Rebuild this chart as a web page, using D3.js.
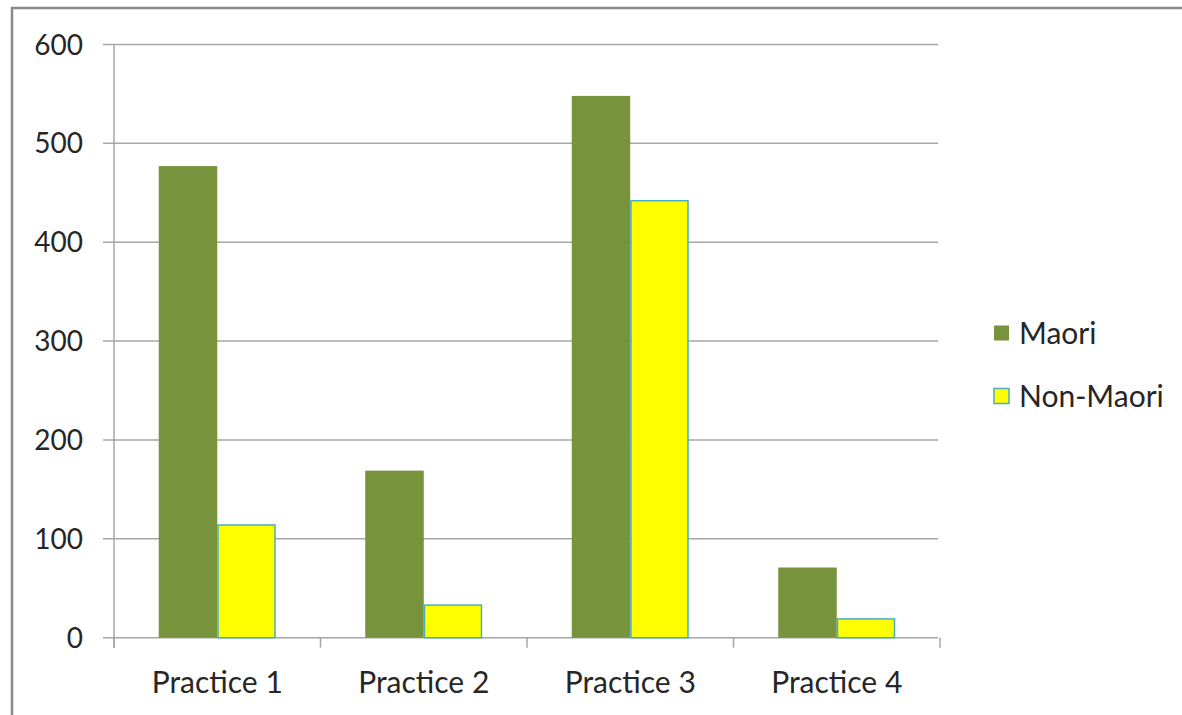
<!DOCTYPE html>
<html><head><meta charset="utf-8">
<script src="https://cdn.jsdelivr.net/npm/d3@7"></script>
<style>
html,body{margin:0;padding:0;background:#fff;}
svg{display:block;}
text{font-family:Lato,"Open Sans",sans-serif;fill:#262626;}
</style></head>
<body>
<script>
const categories = ["Practice 1", "Practice 2", "Practice 3", "Practice 4"];
const seriesNames = ["Maori", "Non-Maori"];
const maori = [477, 169, 548, 71];
const nonMaori = [114, 33, 442, 19];
const yTicks = [0, 100, 200, 300, 400, 500, 600];

(function () {
const W = 1182, H = 715;
const svg = d3.select("body").append("svg").attr("width", W).attr("height", H);

// outer frame
svg.append("line").attr("x1", 12).attr("x2", 12).attr("y1", 7).attr("y2", H).attr("stroke", "#8a8a8a").attr("stroke-width", 2.5);
svg.append("line").attr("x1", 11).attr("x2", W).attr("y1", 8).attr("y2", 8).attr("stroke", "#8a8a8a").attr("stroke-width", 2.5);

const mLeft = 114, mRight = 940, mTop = 44.5, mBottom = 637.7;
const y = d3.scaleLinear().domain([0, 600]).range([mBottom, mTop]);
const x0 = d3.scaleBand().domain(categories).range([mLeft, mRight]).padding(0);
const x1 = d3.scaleBand().domain(seriesNames).range([0, x0.bandwidth()]).paddingInner(0).paddingOuter(0.765);

const data = categories.map((c, i) => ({cat: c, vals: [maori[i], nonMaori[i]]}));
const fills = {"Maori": "#77933C", "Non-Maori": "#FFFF00"};
const strokes = {"Maori": "none", "Non-Maori": "#4BACC6"};

// gridlines
svg.append("g").selectAll("line").data(yTicks).join("line")
  .attr("x1", mLeft - 11).attr("x2", mRight - 2)
  .attr("y1", d => y(d)).attr("y2", d => y(d))
  .attr("stroke", "#a6a6a6").attr("stroke-width", 1.5);

// y axis line
svg.append("line").attr("x1", mLeft).attr("x2", mLeft).attr("y1", y(600)).attr("y2", mBottom + 10)
  .attr("stroke", "#a6a6a6").attr("stroke-width", 1.5);

// y labels
svg.append("g").selectAll("text").data(yTicks).join("text")
  .attr("x", 83).attr("y", d => y(d)).attr("dy", "0.36em")
  .attr("text-anchor", "end").attr("font-size", 28).text(d => d);

// x tick marks
const xTickPos = categories.map(c => x0(c)).concat([mRight]);
svg.append("g").selectAll("line").data(xTickPos).join("line")
  .attr("x1", d => d).attr("x2", d => d).attr("y1", mBottom).attr("y2", mBottom + 10)
  .attr("stroke", "#a6a6a6").attr("stroke-width", 1.5);

// bars
const groups = svg.append("g").selectAll("g").data(data).join("g")
  .attr("transform", d => `translate(${x0(d.cat)},0)`);
groups.selectAll("rect").data(d => d.vals.map((v, j) => ({s: seriesNames[j], v}))).join("rect")
  .attr("x", d => x1(d.s) + (d.s === "Non-Maori" ? 0.75 : 0))
  .attr("width", d => x1.bandwidth() - (d.s === "Non-Maori" ? 1.5 : 0))
  .attr("y", d => y(d.v))
  .attr("height", d => mBottom - y(d.v))
  .attr("fill", d => fills[d.s])
  .attr("stroke", d => strokes[d.s])
  .attr("stroke-width", 1.5);

// x labels
svg.append("g").selectAll("text").data(categories).join("text")
  .attr("x", d => x0(d) + x0.bandwidth() / 2).attr("y", 693)
  .attr("text-anchor", "middle").attr("font-size", 30).text(d => d);

// legend
const leg = svg.append("g").selectAll("g").data(seriesNames).join("g")
  .attr("transform", (d, i) => `translate(994,${333 + i * 63})`);
leg.append("rect").attr("x", 0).attr("y", -7.5).attr("width", 15).attr("height", 15)
  .attr("fill", d => fills[d]).attr("stroke", d => strokes[d]).attr("stroke-width", 1.5);
leg.append("text").attr("x", 25).attr("y", 0).attr("dy", "0.36em").attr("font-size", 30).text(d => d);
})();
</script>
</body></html>
